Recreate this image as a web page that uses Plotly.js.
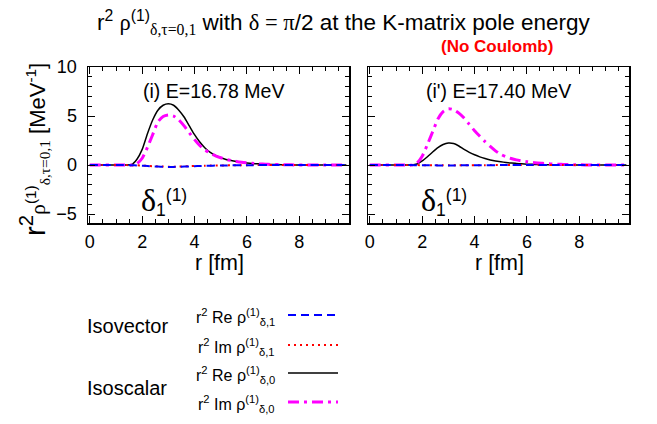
<!DOCTYPE html>
<html><head><meta charset="utf-8">
<script src="https://cdn.plot.ly/plotly-3.0.1.min.js"></script>
<style>html,body{margin:0;padding:0;background:#fff}#chart{width:657px;height:424px}</style>
</head><body><div id="chart"></div>
<script>
// radial grid [fm]
const r = [0,0.2,0.4,0.6,0.8,1.0,1.2,1.4,1.6,1.8,2.0,2.2,2.4,2.6,2.8,3.0,3.2,3.4,3.6,3.8,4.0,4.2,4.4,4.6,4.8,5.0,5.2,5.4,5.6,5.8,6.0,6.2,6.4,6.6,6.8,7.0,7.2,7.4,7.6,7.8,8.0,8.2,8.4,8.6,8.8,9.0,9.2,9.4,9.6,9.8];

// Panel (i) E=16.78 MeV
const reIV_i = [0,0,0,0,0,0,0,0,-0.01,-0.03,-0.06,-0.09,-0.12,-0.15,-0.17,-0.18,-0.18,-0.17,-0.15,-0.13,-0.11,-0.09,-0.07,-0.06,-0.05,-0.04,-0.03,-0.02,-0.02,-0.01,-0.01,-0.01,0,0,0,0,0,0,0,0,0,0,0,0,0,0,0,0,0,0];
const imIV_i = [0,0,0,0,0,0,0,0,-0.01,-0.02,-0.05,-0.08,-0.11,-0.13,-0.15,-0.16,-0.16,-0.15,-0.13,-0.11,-0.09,-0.08,-0.06,-0.05,-0.04,-0.03,-0.03,-0.02,-0.01,-0.01,-0.01,0,0,0,0,0,0,0,0,0,0,0,0,0,0,0,0,0,0,0];
const reIS_i = [0,0,0,0,0,0,0,0.01,0.06,0.6,1.6,3.2,4.6,5.6,6.1,6.25,6.1,5.6,4.9,4.0,3.1,2.35,1.75,1.3,0.98,0.75,0.58,0.46,0.36,0.28,0.22,0.17,0.13,0.1,0.08,0.06,0.05,0.04,0.03,0.02,0.02,0.01,0.01,0.01,0,0,0,0,0,0];
const imIS_i = [0,0,0,0,0,0,0,0,0,0.15,0.7,1.8,3.1,4.4,4.95,5.1,5.0,4.6,4.0,3.3,2.6,2.0,1.55,1.2,0.95,0.75,0.59,0.47,0.37,0.29,0.23,0.18,0.14,0.11,0.08,0.06,0.05,0.04,0.03,0.02,0.02,0.01,0.01,0.01,0.01,0,0,0,0,0];

// Panel (i') E=17.40 MeV
const reIV_ii = [0,0,0,0,0,0,0,0,0,-0.01,-0.01,-0.02,-0.02,-0.03,-0.03,-0.03,-0.03,-0.03,-0.02,-0.02,-0.02,-0.01,-0.01,-0.01,-0.01,0,0,0,0,0,0,0,0,0,0,0,0,0,0,0,0,0,0,0,0,0,0,0,0,0];
const imIV_ii = [0,0,0,0,0,0,0,0,0,0,-0.01,-0.01,-0.02,-0.02,-0.02,-0.02,-0.02,-0.02,-0.02,-0.01,-0.01,-0.01,-0.01,0,0,0,0,0,0,0,0,0,0,0,0,0,0,0,0,0,0,0,0,0,0,0,0,0,0,0];
const reIS_ii = [0,0,0,0,0,0,0,0,0.01,0.12,0.42,0.85,1.33,1.78,2.1,2.25,2.2,1.95,1.6,1.3,1.05,0.84,0.67,0.53,0.42,0.34,0.27,0.21,0.17,0.13,0.1,0.08,0.06,0.05,0.04,0.03,0.02,0.02,0.01,0.01,0.01,0.01,0,0,0,0,0,0,0,0];
const imIS_ii = [0,0,0,0,0,0,0,0,0,0.2,0.9,2.1,3.4,4.7,5.45,5.75,5.65,5.3,4.8,4.15,3.5,2.95,2.4,1.9,1.45,1.1,0.85,0.67,0.53,0.43,0.35,0.28,0.22,0.18,0.14,0.11,0.09,0.07,0.05,0.04,0.03,0.02,0.02,0.01,0.01,0.01,0,0,0,0];

const xTicks = [0,2,4,6,8];
const yTicks = [-5,0,5,10];
const panelLabels = ["(i) E=16.78 MeV", "(i') E=17.40 MeV"];
const legendNames = [
  "r<sup>2</sup> Re ρ<sup>(1)</sup><sub>δ,1</sub>",
  "r<sup>2</sup> Im ρ<sup>(1)</sup><sub>δ,1</sub>",
  "r<sup>2</sup> Re ρ<sup>(1)</sup><sub>δ,0</sub>",
  "r<sup>2</sup> Im ρ<sup>(1)</sup><sub>δ,0</sub>"
];
const groupNames = ["Isovector", "Isoscalar"];

const W = 657, H = 424;
const px = x => x / W, py = y => 1 - y / H;

const styles = [
  {color:'#0000ff', width:2, dash:'8px,5px'},
  {color:'#ff0000', width:2, dash:'2px,4px'},
  {color:'#000000', width:1.5, dash:'solid'},
  {color:'#ff00ff', width:3, dash:'11px,5px,3px,5px'}
];

function tr(y, s, xa, ya){
  return {x:r, y:y, xaxis:xa, yaxis:ya, type:'scatter', mode:'lines', line:Object.assign({shape:'spline', smoothing:0.6}, styles[s]), showlegend:false, hoverinfo:'skip'};
}
const data = [
  tr(reIS_i,2,'x','y'), tr(imIS_i,3,'x','y'), tr(imIV_i,1,'x','y'), tr(reIV_i,0,'x','y'),
  tr(reIS_ii,2,'x2','y2'), tr(imIS_ii,3,'x2','y2'), tr(imIV_ii,1,'x2','y2'), tr(reIV_ii,0,'x2','y2')
];

const font = 'Liberation Sans, Arial, sans-serif';
function xax(dom){
  return {domain:dom, range:[-0.07,9.9], tickvals:xTicks, ticks:'inside', ticklen:7, tickwidth:1, tickcolor:'#000',
    minor:{dtick:0.5, ticks:'inside', ticklen:4, tickcolor:'#000'},
    showline:true, linecolor:'#000', linewidth:1.5, mirror:'ticks', showgrid:false, zeroline:false,
    tickfont:{family:font, size:18, color:'#000'}, ticklabelstandoff:2, fixedrange:true};
}
function yax(anchor, labels){
  return {domain:[py(223), py(67)], anchor:anchor, range:[-5.9,10], tickvals:yTicks, ticks:'inside', ticklen:7, tickwidth:1, tickcolor:'#000',
    minor:{dtick:1, ticks:'inside', ticklen:4, tickcolor:'#000'},
    showline:true, linecolor:'#000', linewidth:1.5, mirror:'ticks', showgrid:false, zeroline:false, showticklabels:labels,
    tickfont:{family:font, size:18, color:'#000'}, ticklabelstandoff:6, fixedrange:true};
}

const serif = 'font-family:Liberation Serif,Times New Roman,serif';
const annotations = [
  {xref:'paper', yref:'paper', x:px(344), y:py(22), text:'r<sup>2</sup> <span style="'+serif+'">ρ</span><sup>(1)</sup><sub><span style="'+serif+'">δ,τ=0,1</span></sub> with <span style="'+serif+'">δ = π</span>/2 at the K-matrix pole energy', showarrow:false, font:{family:font, size:22.5, color:'#000'}, xanchor:'center', yanchor:'middle'},
  {xref:'paper', yref:'paper', x:px(497), y:py(46), text:'<b>(No Coulomb)</b>', showarrow:false, font:{family:font, size:17, color:'#ff0000'}, xanchor:'center', yanchor:'middle'},
  {xref:'paper', yref:'paper', x:px(34), y:py(150), text:'<span style="font-size:29px">r<sup>2</sup></span><span style="'+serif+'">ρ</span><sup>(1)</sup><sub><span style="'+serif+'">δ,τ=0,1</span></sub> [MeV<sup>-1</sup>]', textangle:-90, showarrow:false, font:{family:font, size:22, color:'#000'}, xanchor:'center', yanchor:'middle'},
  {xref:'paper', yref:'paper', x:px(219), y:py(263), text:'r [fm]', showarrow:false, font:{family:font, size:21.5, color:'#000'}, xanchor:'center', yanchor:'middle'},
  {xref:'paper', yref:'paper', x:px(499), y:py(263), text:'r [fm]', showarrow:false, font:{family:font, size:21.5, color:'#000'}, xanchor:'center', yanchor:'middle'},
  {xref:'paper', yref:'paper', x:px(213), y:py(91), text:panelLabels[0], showarrow:false, font:{family:font, size:19.5, color:'#000'}, xanchor:'center', yanchor:'middle'},
  {xref:'paper', yref:'paper', x:px(498), y:py(91), text:panelLabels[1], showarrow:false, font:{family:font, size:19.5, color:'#000'}, xanchor:'center', yanchor:'middle'},
  {xref:'paper', yref:'paper', x:px(139), y:py(201), text:'<span style="'+serif+';font-size:32px">δ</span><sub>1</sub><sup>(1)</sup>', showarrow:false, font:{family:font, size:25, color:'#000'}, xanchor:'left', yanchor:'middle'},
  {xref:'paper', yref:'paper', x:px(419), y:py(201), text:'<span style="'+serif+';font-size:32px">δ</span><sub>1</sub><sup>(1)</sup>', showarrow:false, font:{family:font, size:25, color:'#000'}, xanchor:'left', yanchor:'middle'},
  {xref:'paper', yref:'paper', x:px(85), y:py(326), text:groupNames[0], showarrow:false, font:{family:font, size:20, color:'#000'}, xanchor:'left', yanchor:'middle'},
  {xref:'paper', yref:'paper', x:px(85), y:py(388), text:groupNames[1], showarrow:false, font:{family:font, size:20, color:'#000'}, xanchor:'left', yanchor:'middle'}
];
const rowY = [317, 347, 375, 404];
const shapes = [];
legendNames.forEach((t,i)=>{
  annotations.push({xref:'paper', yref:'paper', x:px(277), y:py(rowY[i]), text:t, showarrow:false, font:{family:font, size:16, color:'#000'}, xanchor:'right', yanchor:'middle'});
  shapes.push({type:'line', xref:'paper', yref:'paper', x0:px(288), x1:px(338), y0:py(rowY[i]-2), y1:py(rowY[i]-2), line:styles[i]});
});

const layout = {
  width:W, height:H, margin:{l:0,r:0,t:0,b:0}, paper_bgcolor:'#fff', plot_bgcolor:'#fff', showlegend:false,
  xaxis: xax([px(88), px(349)]), yaxis: yax('x', true),
  xaxis2: Object.assign(xax([px(368), px(629)]), {anchor:'y2'}), yaxis2: yax('x2', false),
  annotations: annotations, shapes: shapes
};
Plotly.newPlot('chart', data, layout, {displayModeBar:false, staticPlot:true});
</script></body></html>
